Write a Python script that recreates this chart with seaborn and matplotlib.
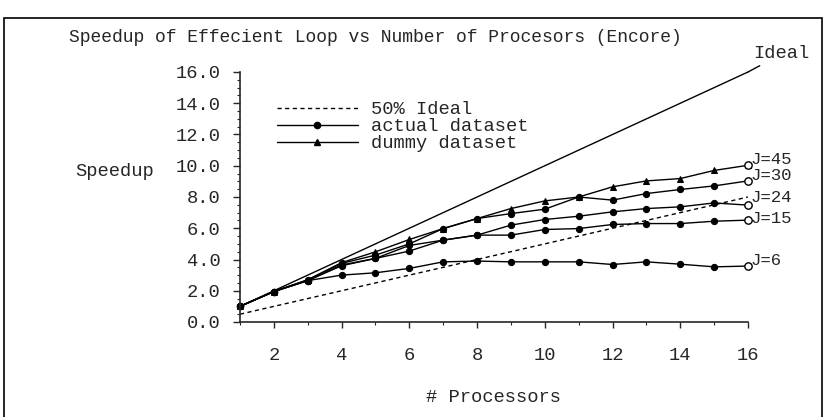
import matplotlib
matplotlib.use("Agg")
import numpy as np
import matplotlib.pyplot as plt
import seaborn as sns
from matplotlib.lines import Line2D
from matplotlib.patches import Rectangle
from matplotlib.ticker import MultipleLocator, FormatStrFormatter

# values
procs = [1, 2, 3, 4, 5, 6, 7, 8, 9, 10, 11, 12, 13, 14, 15, 16]
ideal = [1, 2, 3, 4, 5, 6, 7, 8, 9, 10, 11, 12, 13, 14, 15, 16]
half_ideal = [0.5, 1.0, 1.5, 2.0, 2.5, 3.0, 3.5, 4.0, 4.5, 5.0, 5.5, 6.0, 6.5, 7.0, 7.5, 8.0]

j45 = [1.0, 1.95, 2.7, 3.8, 4.49, 5.28, 5.98, 6.62, 7.26, 7.75, 8.0, 8.65, 9.03, 9.18, 9.7, 10.03]
j30 = [1.0, 1.95, 2.7, 3.75, 4.28, 5.0, 5.98, 6.62, 6.94, 7.22, 8.0, 7.8, 8.22, 8.48, 8.71, 9.03]
j24 = [1.0, 1.95, 2.65, 3.65, 4.07, 4.9, 5.24, 5.56, 6.2, 6.56, 6.77, 7.05, 7.26, 7.37, 7.62, 7.48]
j15 = [1.0, 1.95, 2.65, 3.6, 4.07, 4.54, 5.24, 5.56, 5.56, 5.92, 5.98, 6.24, 6.3, 6.3, 6.45, 6.52]
j6 = [1.0, 1.95, 2.65, 3.0, 3.15, 3.43, 3.85, 3.9, 3.85, 3.85, 3.85, 3.68, 3.85, 3.7, 3.53, 3.58]

series = [("J=45", j45, "^"), ("J=30", j30, "o"), ("J=24", j24, "o"),
          ("J=15", j15, "o"), ("J=6", j6, "o")]
# vertical nudge of the end labels, in points
label_dy = {"J=45": 4, "J=30": 4, "J=24": 5.5, "J=15": 1.5, "J=6": 4}

sns.set_style("ticks")
plt.rcParams["font.family"] = ["Liberation Mono", "DejaVu Sans Mono"]
fs = 13.5

fig = plt.figure(figsize=(8.25, 4.17), dpi=100)
ax = fig.add_axes([240 / 825, 95 / 417, 508 / 825, 250 / 417])

sns.lineplot(x=procs, y=ideal, color="black", lw=1.0, ax=ax, clip_on=False)
sns.lineplot(x=procs, y=half_ideal, color="black", lw=1.0, linestyle=(0, (3, 2.5)), ax=ax)

for name, vals, mk in series:
    sns.lineplot(x=procs, y=vals, color="black", lw=1.0, marker=mk, markersize=4.5,
                 markeredgecolor="black", ax=ax, clip_on=False)
    sns.scatterplot(x=[procs[-1]], y=[vals[-1]], marker="o", s=28, facecolor="white",
                    edgecolor="black", linewidth=1.0, zorder=5, ax=ax, clip_on=False)
    ax.annotate(name, xy=(procs[-1], vals[-1]), xytext=(1.5, label_dy[name]),
                textcoords="offset points", ha="left", va="center", fontsize=12.5,
                annotation_clip=False)

ax.annotate("Ideal", xy=(procs[-1], ideal[-1]), xytext=(4, 13), textcoords="offset points",
            ha="left", va="center", fontsize=fs, annotation_clip=False,
            arrowprops=dict(arrowstyle="-", color="black", lw=1.0, shrinkA=0, shrinkB=0))

ax.set_xlim(1, 16)
ax.set_ylim(0, 16)
ax.xaxis.set_major_locator(MultipleLocator(2))
ax.xaxis.set_minor_locator(MultipleLocator(1))
ax.yaxis.set_major_locator(MultipleLocator(2))
ax.yaxis.set_minor_locator(MultipleLocator(0.5))
ax.yaxis.set_major_formatter(FormatStrFormatter("%.1f"))
ax.tick_params(axis="y", which="major", length=5, width=1, pad=9, labelsize=fs)
ax.tick_params(axis="x", which="major", length=4, width=1, pad=14, labelsize=fs)
ax.tick_params(which="minor", length=2, width=0.8)
sns.despine(ax=ax)
for sp in ax.spines.values():
    sp.set_linewidth(1.2)

ax.set_ylabel("Speedup", rotation=0, fontsize=fs, ha="left", va="center")
ax.yaxis.set_label_coords((75 - 240) / 508, (322 - 172) / 250)
ax.set_xlabel("# Processors", fontsize=fs, va="center")
ax.xaxis.set_label_coords(0.5, (322 - 397) / 250)

fig.text(69 / 825, 1 - 38 / 417, "Speedup of Effecient Loop vs Number of Procesors (Encore)",
         ha="left", va="center", fontsize=13)

handles = [
    Line2D([], [], color="black", lw=1.0, linestyle=(0, (3, 2.5))),
    Line2D([], [], color="black", lw=1.0, marker="o", markersize=4.5),
    Line2D([], [], color="black", lw=1.0, marker="^", markersize=4.5),
]
leg = ax.legend(handles, ["50% Ideal", "actual dataset", "dummy dataset"],
                loc="upper left", bbox_to_anchor=((277 - 240) / 508, (322 - 101) / 250),
                frameon=False, fontsize=fs, handlelength=4.3, handletextpad=0.7,
                labelspacing=0.0, borderpad=0, borderaxespad=0, numpoints=1)

fig.add_artist(Rectangle((4 / 825, -0.01), 818 / 825, 1 - 18 / 417 + 0.01,
                         transform=fig.transFigure, fill=False, lw=1.2, edgecolor="black"))

fig.savefig("out.png", dpi=100)
